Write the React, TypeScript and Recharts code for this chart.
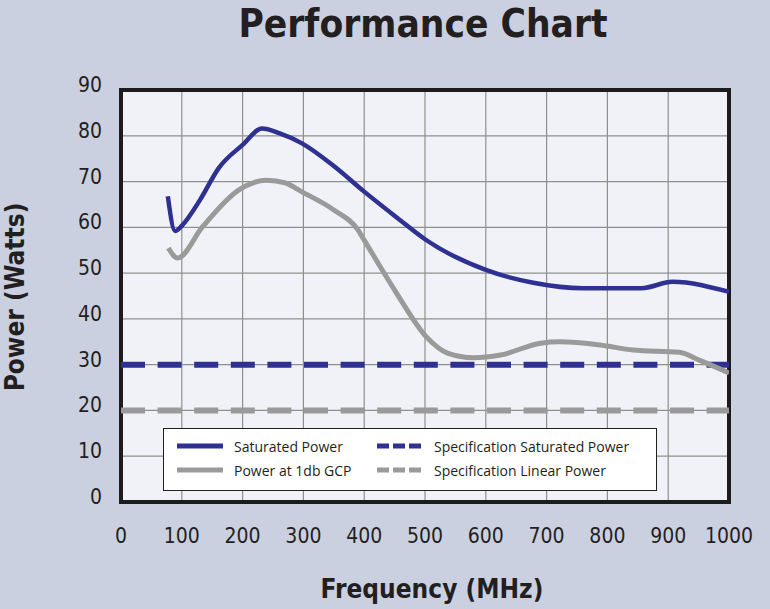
import { LineChart, Line, XAxis, YAxis, CartesianGrid, ReferenceArea } from "recharts";

const BLUE = "#2e3192";
const GRAY = "#9a9a9a";
const TEXT = "#231f20";
const COND = "'DejaVu Sans Condensed', 'DejaVu Sans', sans-serif";

// frequency (MHz) / power (W)
const satFreq = [77, 89, 101, 130, 161, 200, 232, 260, 297, 350, 400, 455, 500, 600, 678, 760, 856, 907, 1000];
const satPower = [66.8, 59.2, 60.5, 66, 73, 78, 81.6, 80.6, 78.4, 73.4, 67.8, 62, 57.4, 50.7, 47.9, 46.7, 46.7, 48.1, 45.9];

const linFreq = [78, 93, 134, 194, 240, 270, 297, 350, 390, 400, 450, 504, 537, 580, 624, 690, 722, 788, 842, 918, 951, 1000];
const linPower = [55.5, 53.3, 60.1, 68.2, 70.3, 69.7, 67.8, 63.8, 59.4, 57.2, 46.3, 35.8, 32.5, 31.5, 32.1, 34.7, 35.0, 34.3, 33.2, 32.7, 31.0, 28.2];

const specFreq = [0, 1000];
const specSatPower = [30, 30];
const specLinPower = [20, 20];

const xTicks = [0, 100, 200, 300, 400, 500, 600, 700, 800, 900, 1000];
const yTicks = [0, 10, 20, 30, 40, 50, 60, 70, 80, 90];

const zip = (xs: number[], ys: number[]) => xs.map((f, i) => ({ f, p: ys[i] }));

const satData = zip(satFreq, satPower);
const linData = zip(linFreq, linPower);
const specSatData = zip(specFreq, specSatPower);
const specLinData = zip(specFreq, specLinPower);

const tickStyle = { fontFamily: COND, fontStretch: "condensed", fontSize: 21 } as const;

const XTick = ({ x, y, payload }: any) => (
  <text x={x} y={y} dy={16} textAnchor="middle" fill={TEXT} style={tickStyle}>
    {payload.value}
  </text>
);

const YTick = ({ x, y, payload }: any) => (
  <text x={x} y={y} dy={2} textAnchor="end" fill={TEXT} style={tickStyle}>
    {payload.value}
  </text>
);

const LegendItem = ({ color, dashed, label }: { color: string; dashed?: boolean; label: string }) => (
  <div style={{ display: "flex", alignItems: "center", height: 24 }}>
    <svg width={46} height={8} style={{ marginRight: 11 }}>
      <line x1={0} y1={4} x2={46} y2={4} stroke={color} strokeWidth={5} strokeDasharray={dashed ? "12 4" : undefined} />
    </svg>
    <span>{label}</span>
  </div>
);

export default function App() {
  return (
    <div
      style={{
        position: "absolute",
        left: 0,
        top: 0,
        width: 770,
        height: 609,
        background: "#cbd0e0",
        color: TEXT,
        fontFamily: COND,
        overflow: "hidden",
      }}
    >
      <div
        style={{
          position: "absolute",
          left: 0,
          width: 846,
          top: 1,
          textAlign: "center",
          fontSize: 38.5,
          fontWeight: "bold",
          fontStretch: "condensed",
        }}
      >
        Performance Chart
      </div>

      <LineChart width={770} height={609} margin={{ top: 90, right: 41, bottom: 77, left: 0 }}>
        <CartesianGrid stroke="#8f8f8f" strokeWidth={1.2} fill="#f1f2f7" fillOpacity={1} />
        <XAxis
          type="number"
          dataKey="f"
          domain={[0, 1000]}
          ticks={xTicks}
          axisLine={false}
          tickLine={false}
          tickSize={0}
          tickMargin={25}
          height={30}
          tick={<XTick />}
          allowDataOverflow
        />
        <YAxis
          type="number"
          domain={[0, 90]}
          ticks={yTicks}
          axisLine={false}
          tickLine={false}
          tickSize={0}
          tickMargin={19}
          width={121}
          tick={<YTick />}
        />
        <Line data={specSatData} dataKey="p" stroke={BLUE} strokeWidth={6} strokeDasharray="24 12.6" dot={false} isAnimationActive={false} />
        <Line data={specLinData} dataKey="p" stroke={GRAY} strokeWidth={6} strokeDasharray="24 12.6" dot={false} isAnimationActive={false} />
        <Line data={linData} dataKey="p" type="monotone" stroke={GRAY} strokeWidth={5} dot={false} isAnimationActive={false} />
        <Line data={satData} dataKey="p" type="monotone" stroke={BLUE} strokeWidth={4.5} dot={false} isAnimationActive={false} />
        <ReferenceArea x1={0} x2={1000} y1={0} y2={90} fill="none" stroke="#1e1b1c" strokeWidth={4} ifOverflow="visible" />
      </LineChart>

      <div
        style={{
          position: "absolute",
          left: 163,
          top: 428,
          width: 492,
          height: 56,
          background: "#ffffff",
          border: `1px solid ${TEXT}`,
          fontFamily: "'Open Sans', sans-serif",
          fontSize: 14,
          display: "flex",
          paddingTop: 5,
          boxSizing: "content-box",
        }}
      >
        <div style={{ marginLeft: 13, width: 200 }}>
          <LegendItem color={BLUE} label="Saturated Power" />
          <LegendItem color={GRAY} label="Power at 1db GCP" />
        </div>
        <div>
          <LegendItem color={BLUE} dashed label="Specification Saturated Power" />
          <LegendItem color={GRAY} dashed label="Specification Linear Power" />
        </div>
      </div>

      <div
        style={{
          position: "absolute",
          left: 0,
          width: 864,
          top: 574,
          textAlign: "center",
          fontSize: 26,
          fontWeight: "bold",
          fontStretch: "condensed",
        }}
      >
        Frequency (MHz)
      </div>
      <div
        style={{
          position: "absolute",
          left: 15,
          top: 297,
          transform: "translate(-50%, -50%) rotate(-90deg)",
          whiteSpace: "nowrap",
          fontSize: 26,
          fontWeight: "bold",
          fontStretch: "condensed",
        }}
      >
        Power (Watts)
      </div>
    </div>
  );
}
